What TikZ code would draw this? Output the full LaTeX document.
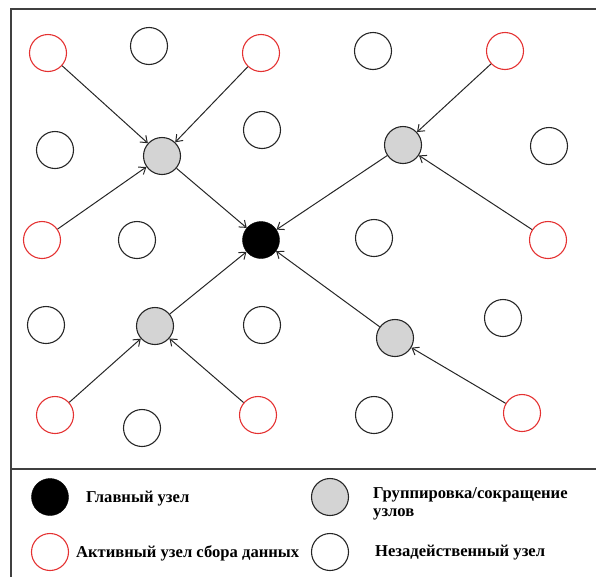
\documentclass[tikz,border=0pt]{standalone}
\usepackage{fontspec}
\setmainfont{Liberation Serif}
\usetikzlibrary{arrows.meta}
\definecolor{nodered}{RGB}{228,50,50}
\definecolor{nodegray}{RGB}{212,212,212}
\tikzset{
  idle/.style={circle, draw=black!85, line width=1.1pt, minimum size=37pt, inner sep=0pt},
  active/.style={circle, draw=nodered, line width=1.1pt, minimum size=37pt, inner sep=0pt},
  hub/.style={circle, draw=black!85, fill=nodegray, line width=1.1pt, minimum size=37pt, inner sep=0pt},
  sink/.style={circle, draw=black, fill=black, minimum size=37pt, inner sep=0pt},
  link/.style={draw=black!85, line width=1pt, -{Straight Barb[length=6pt,width=9pt]}},
  legtext/.style={font=\bfseries\fontsize{16.6}{18}\selectfont, anchor=west, inner sep=0pt, align=left}
}
\begin{document}
\begin{tikzpicture}[x=1pt,y=-1pt]
\useasboundingbox (0,0) rectangle (596,576);
% frame and legend divider
\draw[line width=1.2pt, black!75] (11,600) -- (11,9) -- (610,9);
\draw[line width=1.2pt, black!75] (11,469) -- (610,469);

% row 1
\node[active] (a11) at (48,53) {};
\node[idle]   (i12) at (149,46) {};
\node[active] (a13) at (261,53) {};
\node[idle]   (i14) at (373,51) {};
\node[active] (a15) at (505,51) {};
% row 2
\node[idle]   (i21) at (55,150) {};
\node[hub]    (g1)  at (162,156) {};
\node[idle]   (i23) at (262,130) {};
\node[hub]    (g2)  at (403,145) {};
\node[idle]   (i25) at (549,146) {};
% row 3
\node[active] (a31) at (42,240) {};
\node[idle]   (i32) at (137,240) {};
\node[sink]   (m)   at (261,240) {};
\node[idle]   (i34) at (374,238) {};
\node[active] (a35) at (548,240) {};
% row 4
\node[idle]   (i41) at (46,325) {};
\node[hub]    (g3)  at (155,326) {};
\node[idle]   (i43) at (262,325) {};
\node[hub]    (g4)  at (395,338) {};
\node[idle]   (i45) at (503,318) {};
% row 5
\node[active] (a51) at (55,415) {};
\node[idle]   (i52) at (142,428) {};
\node[active] (a53) at (258,415) {};
\node[idle]   (i54) at (374,415) {};
\node[active] (a55) at (522,413) {};

% data flow
\draw[link] (a11) -- (g1);
\draw[link] (a13) -- (g1);
\draw[link] (a31) -- (g1);
\draw[link] (g1) -- (m);
\draw[link] (a15) -- (g2);
\draw[link] (a35) -- (g2);
\draw[link] (g2) -- (m);
\draw[link] (a51) -- (g3);
\draw[link] (a53) -- (g3);
\draw[link] (g3) -- (m);
\draw[link] (a55) -- (g4);
\draw[link] (g4) -- (m);

% legend
\node[sink]   (ls) at (50,497) {};
\node[hub]    (lh) at (330,497) {};
\node[active] (la) at (50,552) {};
\node[idle]   (li) at (330,552) {};
\node[legtext] (ts) at (86,499) {Главный узел};
\node[legtext] (th) at (373,504) {Группировка/сокращение\\узлов};
\node[legtext] (ta) at (76,553) {Активный узел сбора данных};
\node[legtext] (ti) at (375,553) {Незадейственный узел};
\end{tikzpicture}
\end{document}
